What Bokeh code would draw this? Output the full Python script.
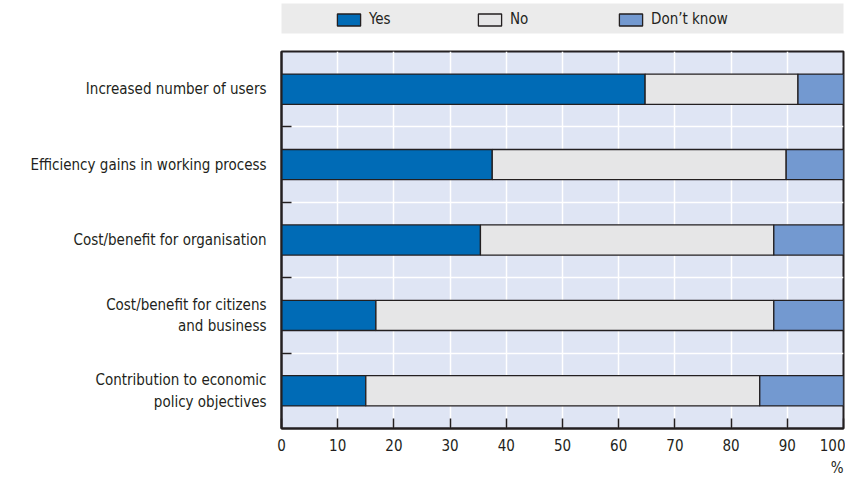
from bokeh.plotting import figure
from bokeh.layouts import column
from bokeh.models import (Range1d, FixedTicker, Legend, LegendItem, Title,
                          ColumnDataSource)
from bokeh.embed import file_html
from bokeh.resources import INLINE

categories = [
    "Increased number of users",
    "Efficiency gains in working process",
    "Cost/benefit for organisation",
    "Cost/benefit for citizens\nand business",
    "Contribution to economic\npolicy objectives",
]
series_names = ["Yes", "No", "Don\u2019t know"]
yes = [64.7, 37.5, 35.4, 16.8, 15.0]
no = [27.2, 52.3, 52.2, 70.8, 70.1]
dont_know = [8.1, 10.2, 12.4, 12.4, 14.9]
x_ticks = [0, 10, 20, 30, 40, 50, 60, 70, 80, 90, 100]

colors = ["#006bb6", "#e6e6e7", "#7399d0"]
DARK = "#231f20"
FONT = "DejaVu Sans Condensed"
FS = "15px"

series = [yes, no, dont_know]
ys = list(range(len(categories)))

# ---- main chart ----
p = figure(width=845, height=439, x_range=Range1d(0, 100),
           y_range=Range1d(len(categories) - 0.5, -0.5),
           output_backend="svg", toolbar_location=None,
           min_border_left=281, min_border_right=2,
           min_border_top=11, min_border_bottom=50)
p.background_fill_color = "#dfe5f4"
p.border_fill_color = "white"
p.outline_line_color = DARK
p.outline_line_width = 2

sources = []
left = [0.0] * len(categories)
for vals, c in zip(series, colors):
    right = [l + v for l, v in zip(left, vals)]
    src = ColumnDataSource(dict(y=ys, left=left, right=right))
    sources.append(src)
    p.hbar(y="y", left="left", right="right", height=0.4, source=src,
           fill_color=c, line_color=DARK, line_width=1.3)
    left = right

# x axis
xa = p.xaxis[0]
xa.ticker = FixedTicker(ticks=x_ticks)
xa.major_tick_in = 10
xa.major_tick_out = 0
xa.major_tick_line_color = DARK
xa.major_tick_line_width = 1.5
xa.minor_tick_line_color = None
xa.axis_line_color = DARK
xa.axis_line_width = 2
xa.major_label_text_font = FONT
xa.major_label_text_font_size = FS
xa.major_label_text_color = DARK
xa.major_label_standoff = 10

# y axis
ya = p.yaxis[0]
ya.ticker = FixedTicker(ticks=ys,
                        minor_ticks=[i + 0.5 for i in ys[:-1]])
ya.major_label_overrides = {i: c for i, c in enumerate(categories)}
ya.major_tick_in = 0
ya.major_tick_out = 0
ya.minor_tick_in = 10
ya.minor_tick_out = 0
ya.minor_tick_line_color = DARK
ya.minor_tick_line_width = 1.5
ya.axis_line_color = DARK
ya.axis_line_width = 2
ya.major_label_text_font = FONT
ya.major_label_text_font_size = FS
ya.major_label_text_color = DARK
ya.major_label_standoff = 15

p.xgrid.grid_line_color = "white"
p.xgrid.grid_line_width = 1.5
p.ygrid.grid_line_color = None
p.ygrid.minor_grid_line_color = "white"
p.ygrid.minor_grid_line_width = 1.5

p.add_layout(Title(text="%", align="right", text_font=FONT,
                   text_font_size=FS, text_font_style="normal",
                   text_color=DARK, standoff=6), "below")

# ---- legend strip ----
top = figure(width=845, height=40, x_range=Range1d(0, 100),
             y_range=Range1d(len(categories) - 0.5, -0.5),
             output_backend="svg", toolbar_location=None,
             x_axis_type=None, y_axis_type=None,
             min_border_left=280, min_border_right=0,
             min_border_top=3, min_border_bottom=7)
top.background_fill_color = "#ebebeb"
top.outline_line_color = None
top.grid.visible = False
items = []
for name, c, src in zip(series_names, colors, sources):
    r = top.hbar(y="y", left="left", right="right", height=0.4, source=src,
                 fill_color=c, line_color=DARK, line_width=1.3, visible=False)
    items.append(LegendItem(label=name, renderers=[r]))
leg = Legend(items=items, orientation="horizontal", location=(53, 5),
             padding=0, margin=0, spacing=0, glyph_width=29, glyph_height=15,
             label_standoff=6, label_width=106,
             background_fill_alpha=0, border_line_alpha=0,
             inactive_fill_alpha=0, click_policy="none",
             label_text_font=FONT, label_text_font_size=FS,
             label_text_color=DARK)
top.add_layout(leg)

layout = column(top, p, spacing=0)
open("out.html", "w").write(file_html(layout, INLINE))
